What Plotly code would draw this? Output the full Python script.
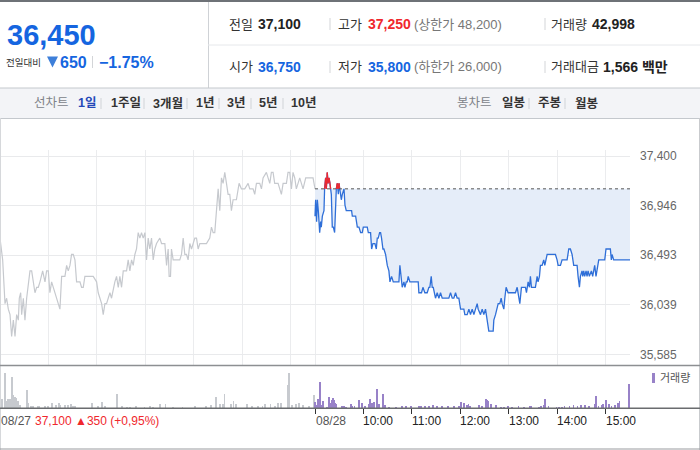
import plotly.graph_objects as go

W, H = 700, 450
def X(px): return px / W
def Y(py): return 1 - py / H

# ---------------- data ----------------
prev_close = 37100
ytick_vals = [35585, 36039, 36493, 36946, 37400]
ytick_text = ["35,585", "36,039", "36,493", "36,946", "37,400"]
hour_labels = ["10:00", "11:00", "12:00", "13:00", "14:00", "15:00"]
hour_offsets = [60, 120, 180, 240, 300, 360]
day_labels = ["08/27", "08/28"]

# 08/27 (minutes after 09:00, price)
d1_min = [0, 3.3, 6.2, 8.2, 10.3, 12.4, 14.4, 16.5, 18.6, 20.6, 22.7, 23.9, 25.6, 26.8, 28.9, 30.9, 33.0,
          37.1, 39.2, 43.3, 45.4, 47.4, 49.5, 52.8, 55.7, 57.7, 59.8, 61.8, 63.9, 68.0, 72.2, 74.2, 76.3,
          80.4, 82.5, 84.5, 86.6, 88.6, 90.7, 92.8, 94.8, 99.0, 101.0, 103.1, 105.1, 107.2, 111.3, 115.4,
          119.6, 121.6, 125.8, 127.8, 129.9, 131.9, 136.1, 138.1, 142.2, 144.3, 146.4, 148.4, 150.5, 152.6,
          156.7, 158.7, 160.8, 162.9, 164.9, 167.0, 169.0, 171.1, 173.2, 175.2, 177.3, 179.4, 181.4, 183.5,
          185.5, 187.6, 189.7, 191.7, 193.8, 197.9, 200.0, 204.1, 206.2, 208.2, 209.4, 211.1, 212.3, 214.4,
          222.6, 224.7, 226.8, 228.8, 230.9, 232.9, 235.0, 237.1, 241.2, 243.3, 245.3, 247.4, 255.6, 259.7,
          261.8, 263.9, 265.9, 268.0, 270.1, 272.1, 274.2, 276.2, 278.3, 280.4, 282.4, 284.5, 286.5, 288.6,
          292.7, 296.0, 298.9, 303.0, 307.2, 309.2, 313.3, 315.4, 317.5, 321.6, 323.7, 325.7, 329.8, 334.0,
          336.0, 338.1, 340.1, 344.3, 348.4, 350.5, 354.6, 356.6, 358.7, 360.8, 362.8, 364.9, 366.9, 371.1,
          373.1, 375.2, 378.5, 387.6, 390]
d1_price = [36650, 36450, 36050, 36100, 36000, 35950, 35750, 35900, 35750, 35950, 35900, 36100, 36150, 35950,
            36100, 35900, 36100, 36350, 36350, 36150, 36200, 36200, 36250, 36350, 36250, 36350, 36350, 36150,
            36250, 36150, 36050, 36000, 36300, 36300, 36400, 36350, 36400, 36500, 36500, 36450, 36250, 36250,
            36200, 36200, 36300, 36300, 36300, 36300, 36250, 36150, 36050, 35950, 36050, 36050, 36150, 36100,
            36250, 36300, 36200, 36300, 36200, 36350, 36350, 36450, 36350, 36450, 36400, 36500, 36550, 36700,
            36650, 36700, 36650, 36700, 36450, 36650, 36550, 36650, 36450, 36550, 36600, 36650, 36600, 36600,
            36400, 36550, 36300, 36300, 36550, 36450, 36450, 36500, 36650, 36500, 36500, 36450, 36600, 36550,
            36650, 36650, 36550, 36600, 36600, 36650, 36750, 36700, 36700, 36950, 37100, 36900, 37200, 37150,
            37250, 37150, 37050, 37050, 36900, 37000, 37000, 37150, 37100, 37100, 37150, 37100, 37100, 37050,
            37150, 37150, 37100, 37200, 37250, 37150, 37250, 37250, 37150, 37150, 37050, 37150, 37150, 37250,
            37250, 37100, 37250, 37200, 37100, 37200, 37150, 37100, 37200, 37200, 37100]

# 08/28 (minutes after 09:00, price)
d2_min = [0, 0.8, 2.0, 2.9, 4.1, 4.9, 5.8, 7.0, 7.8, 9.1, 10.3, 11.1, 11.9, 13.2, 14.0, 15.2, 16.1, 17.3,
          18.5, 19.4, 20.2, 21.4, 22.7, 24.3, 25.6, 26.4, 27.6, 28.9, 29.7, 30.5, 31.7, 32.6, 33.8, 35.0,
          35.9, 37.1, 38.7, 42.0, 45.3, 46.2, 48.2, 50.3, 52.4, 54.4, 56.5, 58.5, 59.8, 64.7, 66.0, 68.8,
          70.1, 71.7, 74.2, 75.9, 77.1, 78.3, 80.0, 81.2, 82.4, 84.1, 85.3, 87.4, 89.5, 91.5, 92.8, 94.8,
          96.9, 103.9, 105.1, 106.8, 108.0, 110.1, 111.3, 113.0, 114.2, 115.4, 117.5, 127.8, 128.6, 131.9,
          133.6, 136.0, 138.9, 141.0, 142.2, 143.9, 145.1, 146.4, 148.0, 149.2, 151.3, 153.4, 155.4, 157.5,
          165.7, 167.8, 169.9, 171.9, 174.0, 176.0, 178.1, 180.2, 182.2, 184.3, 185.5, 188.4, 190.5, 192.5,
          194.6, 196.7, 198.7, 200.8, 202.0, 204.9, 207.0, 209.0, 211.1, 213.1, 215.2, 220.6, 221.4, 223.5,
          225.5, 226.8, 228.8, 230.5, 231.7, 233.8, 235.0, 236.6, 239.1, 244.1, 248.2, 250.3, 252.3, 253.6,
          255.6, 260.6, 261.8, 263.9, 265.5, 266.7, 268.0, 272.9, 275.0, 276.2, 277.9, 279.1, 281.2, 283.2,
          284.5, 286.1, 287.4, 289.4, 293.5, 297.7, 299.7, 301.0, 303.9, 305.9, 310.0, 312.1, 314.2, 316.2,
          318.3, 320.3, 322.4, 324.5, 325.7, 327.4, 328.6, 330.6, 331.5, 332.7, 333.9, 335.6, 336.8, 338.1,
          339.7, 342.2, 343.8, 346.3, 347.9, 349.2, 351.3, 355.4, 358.7, 360.3, 363.6, 365.7, 366.9, 367.8,
          369.8, 390]
d2_price = [36850, 37000, 36800, 37000, 36900, 36800, 36700, 36800, 36750, 36850, 36900, 36900, 37100, 37200,
            37100, 37250, 37150, 37200, 37150, 37100, 37050, 36750, 36750, 36700, 36950, 37100, 37150, 37050,
            37150, 37100, 37050, 37000, 37050, 37100, 37100, 36950, 36900, 36900, 36900, 36850, 36850, 36850,
            36750, 36750, 36700, 36700, 36750, 36750, 36700, 36700, 36550, 36600, 36600, 36550, 36650, 36650,
            36700, 36700, 36650, 36550, 36550, 36500, 36400, 36350, 36250, 36300, 36250, 36250, 36400, 36250,
            36200, 36250, 36200, 36250, 36250, 36300, 36250, 36250, 36150, 36150, 36200, 36150, 36150, 36200,
            36200, 36300, 36200, 36200, 36150, 36100, 36150, 36100, 36150, 36100, 36100, 36150, 36100, 36100,
            36150, 36100, 36100, 36000, 36000, 36000, 35950, 35950, 36000, 35950, 36000, 35950, 36000, 36050,
            36000, 35950, 36000, 35950, 36000, 35900, 35800, 35800, 35900, 35950, 36000, 36050, 36050, 36100,
            36050, 36000, 36100, 36200, 36150, 36150, 36150, 36200, 36100, 36050, 36200, 36200, 36150, 36250,
            36200, 36300, 36200, 36200, 36300, 36250, 36300, 36400, 36400, 36450, 36400, 36450, 36500, 36500,
            36500, 36500, 36450, 36400, 36400, 36450, 36450, 36450, 36550, 36550, 36500, 36400, 36400, 36400,
            36300, 36200, 36300, 36350, 36300, 36350, 36300, 36350, 36300, 36350, 36300, 36350, 36300, 36400,
            36300, 36350, 36450, 36450, 36450, 36550, 36550, 36550, 36450, 36500, 36450, 36450]

# volume bars (minutes after 09:00, shares)
v1_min = [0, 2, 6, 9, 10, 12, 15, 16, 19, 20, 22, 25, 33, 35, 38, 41, 47, 49, 56, 59, 64, 69, 73, 75, 80, 84,
          88, 90, 93, 114, 121, 126, 130, 145, 151, 157, 161, 168, 179, 186, 189, 198, 205, 214, 226, 241,
          255, 261, 267, 272, 276, 278, 286, 289, 292, 306, 312, 319, 325, 328, 335, 340, 344, 348, 356, 358,
          362, 366, 370, 375, 383, 389]
v1_vol = [720, 600, 2160, 480, 600, 600, 1920, 840, 720, 660, 480, 240, 1140, 360, 180, 180, 180, 180, 180,
          180, 360, 240, 360, 240, 240, 240, 300, 180, 180, 360, 180, 420, 180, 900, 180, 120, 120, 180, 120,
          180, 120, 300, 300, 120, 120, 180, 180, 240, 720, 300, 300, 900, 300, 480, 300, 300, 180, 180, 180,
          300, 300, 180, 360, 360, 1440, 2160, 240, 300, 360, 240, 180, 840]
v2_min = [0, 1, 4, 6, 7, 10, 15, 17, 20, 21, 22, 24, 25, 26, 33, 36, 38, 45, 46, 49, 54, 58, 62, 67, 68, 71,
          73, 77, 79, 84, 87, 92, 100, 108, 113, 119, 129, 131, 136, 141, 146, 151, 157, 165, 172, 178, 181,
          184, 188, 190, 192, 203, 207, 212, 213, 214, 218, 224, 230, 234, 239, 244, 252, 259, 266, 268, 277,
          280, 283, 285, 289, 299, 302, 306, 309, 315, 320, 325, 329, 334, 339, 346, 348, 351, 355, 357, 360,
          364, 367, 371, 375, 377, 389]
v2_vol = [420, 240, 600, 1620, 240, 480, 120, 720, 360, 540, 660, 540, 360, 300, 180, 180, 60, 300, 180, 180,
          540, 360, 180, 300, 600, 360, 420, 1200, 300, 900, 240, 120, 120, 180, 180, 180, 180, 180, 180, 180,
          240, 180, 180, 180, 180, 180, 420, 360, 240, 300, 180, 240, 180, 600, 540, 480, 300, 240, 120, 120,
          180, 120, 180, 120, 180, 180, 120, 180, 240, 600, 180, 120, 120, 120, 180, 180, 240, 180, 240, 240,
          180, 300, 780, 180, 240, 300, 540, 300, 180, 240, 360, 480, 1500]

DAY_LEN = 390  # minutes per session (09:00-15:30)

# ---------------- styles ----------------
FONT = "Liberation Sans, Noto Sans CJK KR, sans-serif"
BLUE = "#1565e0"
LINE_BLUE = "#2f6fd8"
RED = "#f0282d"
GRAY_LINE = "#c6c9ce"
VOL_GRAY = "#c7cacf"
VOL_PURPLE = "#9882c8"

x1 = list(d1_min)
x2 = [DAY_LEN + m for m in d2_min]


def above_segments(xs, ys, level):
    sx, sy = [], []
    for i in range(len(xs) - 1):
        xa, ya, xb, yb = xs[i], ys[i], xs[i + 1], ys[i + 1]
        if ya <= level and yb <= level:
            continue
        if ya > level and yb > level:
            pts = [(xa, ya), (xb, yb)]
        elif ya > level:
            xc = xa + (level - ya) / (yb - ya) * (xb - xa)
            pts = [(xa, ya), (xc, level)]
        else:
            xc = xa + (level - ya) / (yb - ya) * (xb - xa)
            pts = [(xc, level), (xb, yb)]
        sx += [p[0] for p in pts] + [None]
        sy += [p[1] for p in pts] + [None]
    return sx, sy


fig = go.Figure()

fig.add_trace(go.Scatter(x=x1, y=d1_price, mode="lines", line=dict(color=GRAY_LINE, width=1.2),
                         hoverinfo="skip"))
fig.add_trace(go.Scatter(x=x2, y=[prev_close] * len(x2), mode="lines", line=dict(width=0),
                         hoverinfo="skip"))
fig.add_trace(go.Scatter(x=x2, y=[min(p, prev_close) for p in d2_price], mode="lines",
                         line=dict(width=0), fill="tonexty", fillcolor="#e5edf9", hoverinfo="skip"))
fig.add_trace(go.Scatter(x=x2, y=d2_price, mode="lines", line=dict(color=LINE_BLUE, width=1.3),
                         hoverinfo="skip"))
rx, ry = above_segments(x2, d2_price, prev_close)
fig.add_trace(go.Scatter(x=rx, y=ry, mode="lines", line=dict(color=RED, width=1.3), hoverinfo="skip",
                         connectgaps=False))

fig.add_trace(go.Bar(x=v1_min, y=v1_vol, xaxis="x2", yaxis="y2", marker=dict(color=VOL_GRAY, line=dict(width=0)),
                     width=1.0, hoverinfo="skip"))
fig.add_trace(go.Bar(x=[DAY_LEN + m for m in v2_min], y=v2_vol, xaxis="x2", yaxis="y2",
                     marker=dict(color=VOL_PURPLE, line=dict(width=0)), width=1.0, hoverinfo="skip"))

grid_x = [m for m in hour_offsets] + [DAY_LEN] + [DAY_LEN + m for m in hour_offsets]
tick_x2 = [0, DAY_LEN] + [DAY_LEN + m for m in hour_offsets]

shapes = []
def hline(py, x0, x1_, color, width=1):
    shapes.append(dict(type="line", xref="paper", yref="paper", x0=X(x0), x1=X(x1_), y0=Y(py), y1=Y(py),
                       line=dict(color=color, width=width)))
def vline(px, y0, y1, color, width=1):
    shapes.append(dict(type="line", xref="paper", yref="paper", x0=X(px), x1=X(px), y0=Y(y0), y1=Y(y1),
                       line=dict(color=color, width=width)))

shapes.append(dict(type="rect", xref="paper", yref="paper", x0=0, x1=1, y0=Y(2), y1=1,
                   fillcolor="#6e7277", line=dict(width=0)))
vline(208.5, 2, 88, "#cfd2d6")
hline(45, 208, 700, "#e6e8eb")
shapes.append(dict(type="rect", xref="paper", yref="paper", x0=0, x1=1, y0=Y(118.5), y1=Y(88),
                   fillcolor="#f3f4f7", line=dict(width=0), layer="below"))
hline(88, 0, 700, "#c4c8cd")
hline(118.5, 0, 700, "#c4c8cd")
vline(0.5, 118, 450, "#d6d8db")
vline(699.5, 118, 450, "#c9cbce")
hline(365.5, 0, 700, "#8d8f92", 1.6)
hline(408.3, 0, 700, "#6a6c6f", 1.4)
hline(449, 0, 700, "#9a9c9f", 1.2)
shapes.append(dict(type="line", xref="x", yref="y", x0=DAY_LEN, x1=2 * DAY_LEN, y0=prev_close, y1=prev_close,
                   line=dict(color="#555555", width=1, dash="dot")))
for sx in (330, 545):
    for cy in (24, 67):
        vline(sx, cy - 6, cy + 6, "#d3d5d8")
vline(92.5, 56, 68, "#d3d5d8")
for sx in (101, 144, 187, 219, 251, 283, 529, 565):
    vline(sx, 98, 109, "#d0d3d7")
shapes.append(dict(type="rect", xref="paper", yref="paper", x0=X(652), x1=X(655), y0=Y(383), y1=Y(373),
                   fillcolor=VOL_PURPLE, line=dict(width=0)))
# down-triangle icon next to the change value
shapes.append(dict(type="path", xref="paper", yref="paper",
                   path=f"M {X(47)} {Y(56.5)} L {X(58)} {Y(56.5)} L {X(52.5)} {Y(67.5)} Z",
                   fillcolor="#3d7fd9", line=dict(width=0)))

ann = []
def txt(px, py, text, size=13, color="#333", bold=False, xanchor="left", family=FONT):
    t = f"<b>{text}</b>" if bold else text
    ann.append(dict(x=X(px), y=Y(py), xref="paper", yref="paper", text=t, showarrow=False,
                    xanchor=xanchor, yanchor="middle", font=dict(size=size, color=color, family=family)))

txt(5, 35, "36,450", 29, BLUE, True)
txt(4, 62, "전일대비", 9.5, "#333")
txt(58, 62, "650", 16, BLUE, True)
txt(97, 62, "−1.75%", 16, BLUE, True)
rows = [
    (24, [("전일", 227, "#333", False, 13), ("37,100", 256, "#222", True, 14),
          ("고가", 336, "#333", False, 13), ("37,250", 366, RED, True, 14),
          ("(상한가 48,200)", 412, "#777", False, 13),
          ("거래량", 549, "#333", False, 13), ("42,998", 590, "#222", True, 14)]),
    (67, [("시가", 227, "#333", False, 13), ("36,750", 256, BLUE, True, 14),
          ("저가", 336, "#333", False, 13), ("35,800", 366, BLUE, True, 14),
          ("(하한가 26,000)", 412, "#777", False, 13),
          ("거래대금", 549, "#333", False, 13), ("1,566 백만", 601, "#222", True, 14)]),
]
for cy, items in rows:
    for t, px, col, b, s in items:
        txt(px, cy, t, s, col, b)

txt(32, 103, "선차트", 12.5, "#808389")
txt(76, 103, "1일", 12.5, "#2448b8", True)
for t, px in (("1주일", 109), ("3개월", 151), ("1년", 194), ("3년", 225), ("5년", 257), ("10년", 289)):
    txt(px, 103, t, 12.5, "#333", True)
txt(455, 103, "봉차트", 12.5, "#808389")
for t, px in (("일봉", 500), ("주봉", 536), ("월봉", 573)):
    txt(px, 103, t, 12.5, "#333", True)

ann.append(dict(x=0, y=Y(421), xref="x2", yref="paper", text=day_labels[0], showarrow=False, xanchor="left",
                yanchor="middle", xshift=-1, font=dict(size=12, color="#555", family=FONT)))
ann.append(dict(x=0, y=Y(421), xref="x2", yref="paper", text="37,100 ▲350 (+0,95%)", showarrow=False,
                xanchor="left", yanchor="middle", xshift=33, font=dict(size=12, color=RED, family=FONT)))
ann.append(dict(x=DAY_LEN, y=Y(421), xref="x2", yref="paper", text=day_labels[1], showarrow=False,
                xanchor="left", yanchor="middle", xshift=-1, font=dict(size=12, color="#555", family=FONT)))
for lab, m in zip(hour_labels, hour_offsets):
    ann.append(dict(x=DAY_LEN + m, y=Y(421), xref="x2", yref="paper", text=lab, showarrow=False,
                    xanchor="left", yanchor="middle", xshift=-2, font=dict(size=12, color="#222", family=FONT)))
txt(658, 378, "거래량", 11, "#555")

fig.update_layout(
    width=W, height=H, autosize=False,
    margin=dict(l=0, r=0, t=0, b=0),
    paper_bgcolor="white", plot_bgcolor="white",
    showlegend=False, bargap=0, hovermode=False,
    font=dict(family=FONT),
    shapes=shapes, annotations=ann,
    xaxis=dict(domain=[0, X(630)], range=[0, 2 * DAY_LEN], anchor="y", tickvals=grid_x,
               showticklabels=False, showgrid=True, gridcolor="#ebecee", gridwidth=1,
               zeroline=False, showline=False, ticks=""),
    yaxis=dict(domain=[Y(365.5), Y(150)], range=[35485, 37455], side="right", anchor="x",
               tickvals=ytick_vals, ticktext=ytick_text, showgrid=True, gridcolor="#e9eaec",
               zeroline=False, showline=False, ticks="", ticklabelstandoff=9,
               tickfont=dict(size=12, color="#666", family=FONT)),
    xaxis2=dict(domain=[0, X(630)], range=[0, 2 * DAY_LEN], anchor="y2", tickvals=tick_x2,
                showticklabels=False, showgrid=False, zeroline=False, showline=False,
                ticks="outside", ticklen=5, tickwidth=1.2, tickcolor="#333"),
    yaxis2=dict(domain=[Y(408.3), Y(365.5)], range=[0, 2580], anchor="x2", showgrid=False,
                showticklabels=False, zeroline=False, showline=False, ticks=""),
)

fig.write_html("out.html", config={"displayModeBar": False},
               post_script="document.body.style.margin='0';document.body.style.overflow='hidden';")
